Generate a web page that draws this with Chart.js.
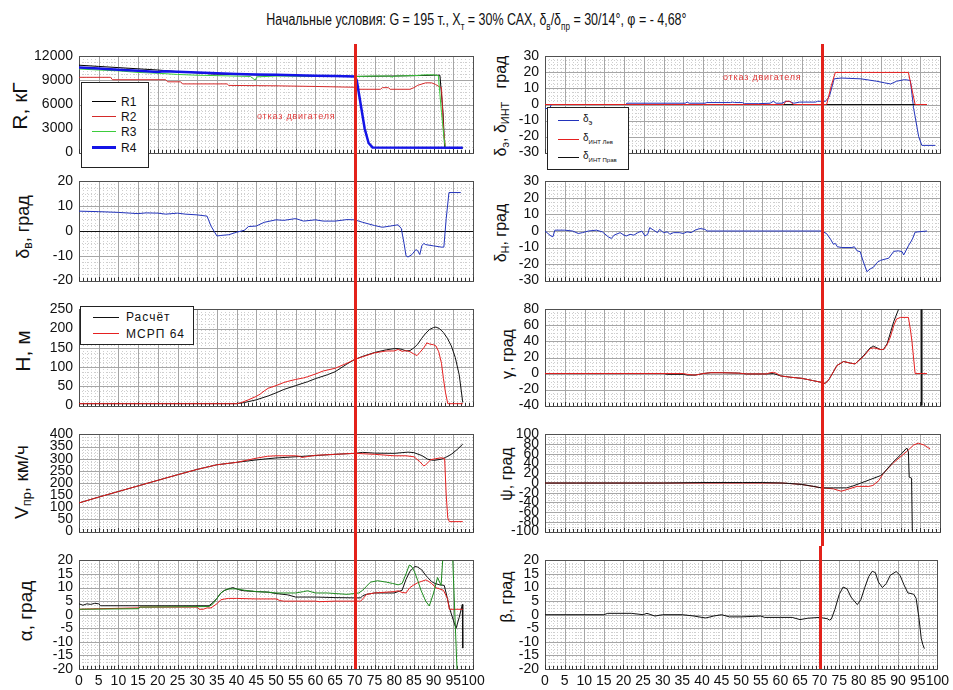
<!DOCTYPE html>
<html><head><meta charset="utf-8">
<script src="https://cdn.jsdelivr.net/npm/chart.js@4.4.0/dist/chart.umd.min.js"></script>
<style>
html,body{margin:0;padding:0;background:#fff;}
#wrap{position:relative;width:953px;height:690px;overflow:hidden;background:#fff;font-family:Arial,"Liberation Sans",sans-serif;}
canvas{position:absolute;}
.yt{position:absolute;white-space:nowrap;transform:translate(-50%,-50%) rotate(-90deg);color:#111;line-height:1;}
.yt sub{font-size:68%;vertical-align:-0.3em;}
.leg{position:absolute;background:#fff;border:1px solid #222;box-sizing:border-box;z-index:5;}
.li{position:absolute;white-space:nowrap;line-height:1;transform:translateY(-50%);color:#111;}
.li sub{font-size:75%;vertical-align:-0.35em;}
.sw{position:absolute;}
.fail{position:absolute;color:#e03a3a;font-size:9px;letter-spacing:0.8px;white-space:nowrap;line-height:1;transform:translateY(-50%);z-index:4;}
#title{position:absolute;left:0;width:953px;top:10px;text-align:center;font-family:Arial,"Liberation Sans",sans-serif;font-size:16px;color:#111;line-height:1.2;transform:scaleX(0.78);transform-origin:476px 0;}
#title sub{font-size:65%;vertical-align:-0.45em;}
</style>
</head>
<body>
<div id="wrap">
  <div id="title">Начальные условия: G = 195 т., X<sub>т</sub> = 30% САХ, δ<sub>в</sub>/δ<sub>пр</sub> = 30/14°, φ = - 4,68°</div>

  <div class="yt" style="left:19px;top:106px;font-size:21px;">R, кГ</div>
  <div class="yt" style="left:24px;top:227px;font-size:18px;">δ<sub>в</sub>, град</div>
  <div class="yt" style="left:22px;top:351px;font-size:21px;">H, м</div>
  <div class="yt" style="left:23px;top:482px;font-size:19px;">V<sub>пр</sub>, км/ч</div>
  <div class="yt" style="left:25px;top:611px;font-size:19px;">α, град</div>

  <div class="yt" style="left:502px;top:106px;font-size:16px;">δ<sub>э</sub>, δ<sub>ИНТ</sub>&nbsp;&nbsp; град</div>
  <div class="yt" style="left:502px;top:233px;font-size:16px;">δ<sub>Н</sub>, град</div>
  <div class="yt" style="left:508px;top:354px;font-size:16px;">γ, град</div>
  <div class="yt" style="left:507px;top:474px;font-size:16px;">ψ, град</div>
  <div class="yt" style="left:507px;top:597px;font-size:16px;">β, град</div>

  <div class="fail" style="left:257px;top:116px;">отказ двигателя</div>
  <div class="fail" style="left:723px;top:77px;">отказ двигателя</div>

  <div class="leg" style="left:81px;top:82px;width:68px;height:86px;">
    <div class="sw" style="left:10px;top:18px;width:24px;border-top:1px solid #000;"></div>
    <div class="li" style="left:39px;top:19px;font-size:12px;">R1</div>
    <div class="sw" style="left:10px;top:33px;width:24px;border-top:1px solid #d42a2a;"></div>
    <div class="li" style="left:39px;top:34px;font-size:12px;">R2</div>
    <div class="sw" style="left:10px;top:48px;width:24px;border-top:1px solid #3ccc3c;"></div>
    <div class="li" style="left:39px;top:49px;font-size:12px;">R3</div>
    <div class="sw" style="left:10px;top:63px;width:24px;border-top:3px solid #1414e6;"></div>
    <div class="li" style="left:39px;top:65px;font-size:12px;">R4</div>
  </div>

  <div class="leg" style="left:547px;top:107px;width:82px;height:63px;">
    <div class="sw" style="left:10px;top:12px;width:21px;border-top:1px solid #2233bb;"></div>
    <div class="li" style="left:35px;top:12px;font-size:10px;">δ<sub>э</sub></div>
    <div class="sw" style="left:10px;top:31px;width:21px;border-top:1px solid #e52020;"></div>
    <div class="li" style="left:35px;top:31px;font-size:10px;">δ<sub style="font-size:6px">ИНТ Лев</sub></div>
    <div class="sw" style="left:10px;top:49px;width:21px;border-top:1px solid #111;"></div>
    <div class="li" style="left:35px;top:49px;font-size:10px;">δ<sub style="font-size:6px">ИНТ Прав</sub></div>
  </div>

  <div class="leg" style="left:80px;top:306px;width:114px;height:39px;">
    <div class="sw" style="left:12px;top:10px;width:26px;border-top:1px solid #111;"></div>
    <div class="li" style="left:45px;top:10px;font-size:12px;letter-spacing:1px;">Расчёт</div>
    <div class="sw" style="left:12px;top:26px;width:26px;border-top:1px solid #e52020;"></div>
    <div class="li" style="left:45px;top:27px;font-size:12px;letter-spacing:1px;">МСРП 64</div>
  </div>
</div>

<script>
// ---------------- DATA ----------------
const failTime = 70;
const xMin = 0, xMax = 100, xStep = 5;

// R, kG
const r1X = [0,5,10,15,20,25,30,34,40,50,60,70,80,90,91.6,92.4,92.8,97.4];
const r1Y = [10900,10750,10600,10450,10300,10100,9950,9800,9750,9650,9550,9500,9550,9650,9650,5000,600,600];
const r2X = [0,2,8,8.5,22,22.5,25.8,26.3,37.6,38,50,60,70,71,76.5,77,78.5,79,84,85,86,88,89.5,90.5,91.5,92,92.5,93,97.4];
const r2Y = [9390,9390,9390,9090,9090,8830,8830,8570,8570,8380,8330,8250,8150,7900,7900,8100,8100,7900,7900,8100,8400,8700,8700,8500,8200,8100,3000,600,600];
const r3X = [0,5,10,15,20,25,30,35,43.5,44,44.7,45.2,50,60,70,75,79,79.5,80,85,88,90,91.2,92,92.6,93,97.4];
const r3Y = [10430,10300,10200,10000,9900,9750,9650,9600,9500,9300,9050,9450,9550,9500,9500,9550,9550,9400,9550,9600,9700,9700,9600,5000,2000,600,600];
const r4X = [0,5,10,15,20,21.5,25,30,35,40,45,50,55,60,65,70,70.5,71.5,72.5,73.5,74.5,97.4];
const r4Y = [10600,10500,10350,10200,10050,10150,10100,10000,9900,9800,9750,9700,9650,9600,9550,9500,9000,6000,3000,1200,650,600];

// delta_e, delta_INT
const deX = [0,1.2,1.6,20.5,20.7,35.5,36,36.5,40.5,41,47,47.5,48,50,50.5,54,57,57.8,58.5,60,61,62,63,64.5,68.5,69,71,72,73.2,75,80,84,86,87.5,89,91,92.5,93.3,94.6,95.4,98.8];
const deY = [-2.5,-2.5,0,0,0.8,0.8,1.5,0.8,0.8,1.2,1.2,1.5,1.2,1.2,0.5,0.5,0.8,2,0.8,0.8,2,1.8,0.8,1.5,1.5,2,2,5,16,16.5,16,14.5,13.5,12.8,14.5,15.5,15,-2,-20,-25.5,-25.5];
const dLevX = [0,60.4,61,62,62.9,71.3,72.5,73.5,92,93.7,96.7];
const dLevY = [0,0,2,2,0,0,12,20,20,0,0];
const dPravX = [0,96.7];
const dPravY = [0,0];

// delta_v
const dvX = [0,5,10,13,15,17,20,22,25,27,30,32.5,33.5,35,36,38,40,42,43,45,47,50,52,55,57,60,62,65,68,70,72,75,77,79,81,81.8,82.5,83,83.5,84.5,85.5,86,86.5,87,87.5,88,90,92,92.6,93.2,93.9,96.9];
const dvY = [8,7.8,7.5,7.2,7,7.3,7.2,6.8,7.2,6.8,6.5,6,2,-2,-1.8,-1.5,-0.5,0.3,1.8,2,3.5,4.5,4.3,5,4,4.5,4,4,4.6,4.5,3.5,2.2,1.5,2,2.5,1,-5,-10,-10.5,-9.5,-7.5,-8,-9.5,-6,-5,-5.5,-6,-6.5,-6.5,5,15.5,15.5];

// delta_N
const dnX = [0,0.5,1.5,2,2.5,5,7,8.4,9.5,11,13,14.5,16,16.8,17.5,19,20,20.6,21.5,22.5,23.5,24.5,25.3,26,26.5,27.5,28.5,29,30,31,31.6,32.5,34,35,36,37,38,39.2,40.5,41,70,71.3,72.3,73,73.5,74,75.1,77.7,78.3,79,79.8,80.5,81.5,82.3,83.2,84.1,84.9,86.1,87,88.3,89.5,90.4,90.8,92,93,93.7,96.7];
const dnY = [0,-1,-3,-3.5,0.5,0.5,0,-1.5,-1,0,0.5,-0.5,-3.5,-4.5,-2.5,-1,-2.5,-3,-2,-2.5,-1,0,-3,-2,2,0.5,-1,1,-1,-0.5,-2,-1,-1,-1.5,-0.5,-1,0.5,1.5,1,0,0,-1.6,-5,-8,-7.5,-9.5,-10,-10,-9.5,-12,-12.5,-18,-24.6,-23,-21.8,-19,-17.8,-17,-16.5,-12.3,-12,-12.5,-14.5,-9,-5,-0.7,0];

// H, m
const hCalcX = [0,40,42,45,48,50,52,55,58,60,63,65,68,70,72,75,78,80,81,82,83,84,85,86,87,88,89,90,90.6,91.5,92.5,93.5,94.5,95.5,96.5,97.4];
const hCalcY = [5,5,8,15,25,33,42,52,62,70,80,88,108,120,128,138,145,148,148,146,142,143,150,160,175,188,198,203,204,200,190,175,155,125,80,8];
const hMsrpX = [0,40,41,43,45,46,47,48,50,52,53,55,57,58,60,62,65,68,70,72,75,78,80,81,82,83,84,85,85.8,86.5,87.5,88.3,89,90,90.6,91.3,92,92.5,93,93.6,97.4];
const hMsrpY = [5,5,7,15,24,30,38,45,52,60,63,68,72,75,82,90,97,110,120,127,137,142,142,146,141,143,140,134,130,138,150,163,160,158,155,140,110,70,35,5,5];

// V_pr, km/h
const vCalcX = [0,5,10,15,20,25,30,35,40,45,48,50,55,60,65,70,72,75,80,83.5,85,87,88.5,90,92,93,94.5,96,97.4];
const vCalcY = [118,142,165,188,211,234,256,275,285,295,300,303,308,313,318,322,326,323,322,327,325,313,298,293,298,305,318,338,360];
const vMsrpX = [0,5,10,15,20,25,30,35,40,45,47.8,50,55,56,56.5,60,65,70,75,80,83,85,86.5,87.5,88,89.3,90.5,92,92.8,93.2,93.6,94,97.4];
const vMsrpY = [118,142,165,188,211,234,256,275,285,302,310,312,312,310,305,314,318,322,318,312,312,308,288,270,275,296,300,304,300,150,56,41,41];

// alpha
const aBlackX = [0,1,2,3,4,5,5.5,33,34,35,36,37,38,39,40,41,42,45,48,50,53,55,60,65,70,71.5,72,73,75,80,81,82,83,84,85.3,86,87,88,88.5,89.5,90.2,91.5,92.7,93.5,94,95,95.7,96.5,97.3,97.4];
const aBlackY = [4,3.5,4,3.8,4.2,4,3.3,3.3,4.5,6,8,9,9.5,10,9.5,9,8.8,8.5,8.3,7.8,7.3,6.5,6.5,6.3,6.2,6.2,7,7.5,8,8,8.5,9,13,16,17.8,17.5,16.5,14.5,13.7,12.2,11.6,11,10.8,6,2.6,-2,-5,-1,3.8,-12.3];
const aRedX = [0,5,15,15.5,30,30.5,31.5,32.5,33.5,35,36,37,38,40,45,50,51,52,60,61,65,70,71.5,72,73,75,80,81,82,83,84,85,86,87,88,88.5,89.5,90.5,91.5,92.5,93.5,94,97.4];
const aRedY = [2,2.2,2.5,2.8,2.8,2,2,2.5,2.5,4,5.5,5.8,6,6,5.8,5.8,5.2,5,5,4.8,5,5,5,5.8,7.5,8,8.5,8.8,8.2,8,10,11,11.8,12.3,12.8,12.5,11.5,10,9.5,9,6,2,2];
const aGreenX = [0,15,15.5,33,34,35,36,37,38,39,40,42,45,48,50,52,55,57,58,60,63,65,68,70,71,72,73,74,75.8,78,79.6,81,82,83,83.8,84.3,85.1,86,86.8,88,88.9,90,91,91.9,92.3,92.6,94.6,96.2];
const aGreenY = [2,2.2,2.8,3,4,6,8,9,9.5,9.5,9.5,9,8.5,8.3,8,8,8,8.5,8.8,8,8,7.8,7.5,7.8,8,9,10.5,12,12.5,12,11.5,11,11.5,15,18.2,18,16,12.5,9,5,3.2,8,13.7,10.8,20,30,30,-30];

// gamma
const gCalcX = [0,30,31,35,36,38,40,42,45,49,51,56,57.8,59.7,62,65,68,70,70.5,71,71.8,73,73.9,75.6,77.3,78.5,80.6,82.3,83.2,84.9,85.7,86.6,87.4,88.3,89.5,90.5,95.2,95.4];
const gCalcY = [0,0,-1,-1,-2,-2,0,1,1,0.5,-0.5,-0.5,0,-3,-4.5,-6,-9,-11,-12.5,-12,-8,2,10,15,13,12,22,32,34,30,30,37,50,65,80,100,200,-200];
const gMsrpX = [0,35,36,38,40,42,45,49,51,56,57,57.8,58.5,59.7,62,65,68,70,70.5,71,71.8,73,73.9,75.6,77.3,78.5,80.6,82.3,83.2,84.9,85.7,86.6,87.4,88.3,89,90,92,92.5,92.9,93.7,96.7];
const gMsrpY = [0,0,-1,-2,0,1,1,0.5,-0.5,-0.5,1,1.5,0.5,-3,-4.5,-6,-9,-11,-12.5,-12,-8,2,10,15,13,12,21,31,32,30,30,36,45,60,68,70,70,55,40,0,0];

// psi
const pCalcX = [0,8,20,30,40,50,55,60,62,65,68,70,73,75,76.4,78,80,82.3,84.9,85.7,88,90,91.6,92,92.2,92.8,93];
const pCalcY = [0,0,0,0,1,1,1,0,-1,-3,-7,-10,-10,-10,-10,-6,0,7,15,20,42,58,72,64,12,10,-100];
const pMsrpX = [0,8,20,30,40,50,60,65,70,73,75,77,79,82,83,84.5,85.7,88,91.6,93.3,94.5,96,97.5];
const pMsrpY = [0,0,0,0,0,0,0,-3,-10,-12,-17,-12,-7,-7,-5,5,20,40,65,78,82,78,70];

// beta
const bX = [0,15,16,22,25,26,27,28,30,35,38,40,41,43,45,47,50,55,56,60,63,65,67,70,72,72.5,73,73.9,75,76,77,78,79.6,80.5,81.5,82.5,83.4,84.2,85,86,87,88,89.5,90.5,91.5,92.5,93.3,94,94.6,95.3,95.9,96.3,96.7];
const bY = [0,0,0.5,0.5,0,0.5,0,-0.5,0,0,-0.5,-1,-1.2,-0.5,0,-0.8,-0.8,-0.5,-1,-1,-1,-1.8,-1.3,-1,-1.5,-2,-1.6,2,7.5,10.2,9.5,6.5,3.7,5.5,10,14,16,15.5,12,10,11.5,14.5,15.9,14.5,11,8,7.8,7.5,6,-1,-8.7,-11,-12.5];

// ---------------- RENDER ----------------
const FONT = 'Arial, "Liberation Sans", sans-serif';
const panelPlugin = {
  id: 'panel',
  beforeDatasetsDraw(chart, args, o) {
    const ctx = chart.ctx, a = chart.chartArea, x = chart.scales.x, y = chart.scales.y;
    const L = Math.round(a.left), R = Math.round(a.right), T = Math.round(a.top), Bt = Math.round(a.bottom);
    ctx.save();
    ctx.lineWidth = 1;
    // minor dotted grid
    ctx.setLineDash([1, 2]);
    ctx.strokeStyle = '#cfcfcf';
    ctx.beginPath();
    for (let i = xMin; i <= xMax; i++) {
      if (i % xStep === 0) continue;
      const px = Math.round(x.getPixelForValue(i)) + 0.5;
      ctx.moveTo(px, T); ctx.lineTo(px, Bt);
    }
    const nMinor = Math.round((y.max - y.min) / o.yMinor);
    const per = Math.round(o.yStep / o.yMinor);
    for (let j = 1; j < nMinor; j++) {
      if (j % per === 0) continue;
      const py = Math.round(y.getPixelForValue(y.min + j * o.yMinor)) + 0.5;
      ctx.moveTo(L, py); ctx.lineTo(R, py);
    }
    ctx.stroke();
    ctx.setLineDash([]);
    // major grid
    ctx.strokeStyle = '#a6a6a6';
    ctx.beginPath();
    for (let i = xMin + xStep; i < xMax; i += xStep) {
      const px = Math.round(x.getPixelForValue(i)) + 0.5;
      ctx.moveTo(px, T); ctx.lineTo(px, Bt);
    }
    const nMaj = Math.round((y.max - y.min) / o.yStep);
    for (let j = 1; j < nMaj; j++) {
      const v = y.min + j * o.yStep;
      if (o.zero && Math.abs(v) < 1e-9) continue;
      const py = Math.round(y.getPixelForValue(v)) + 0.5;
      ctx.moveTo(L, py); ctx.lineTo(R, py);
    }
    ctx.stroke();
    if (o.zero) {
      ctx.strokeStyle = '#111';
      ctx.beginPath();
      const py = Math.round(y.getPixelForValue(0)) + 0.5;
      ctx.moveTo(L, py); ctx.lineTo(R, py);
      ctx.stroke();
    }
    // frame
    ctx.strokeStyle = '#505050';
    ctx.strokeRect(L + 0.5, T + 0.5, R - L, Bt - T);
    // ruler ticks along bottom
    ctx.strokeStyle = '#333';
    ctx.beginPath();
    for (let i = xMin; i <= xMax; i++) {
      const px = Math.round(x.getPixelForValue(i)) + 0.5;
      ctx.moveTo(px, Bt); ctx.lineTo(px, Bt - (i % xStep === 0 ? 4 : 3));
    }
    ctx.stroke();
    ctx.restore();
  },
  afterDraw(chart, args, o) {
    const ctx = chart.ctx, a = chart.chartArea, x = chart.scales.x;
    const px = Math.round(x.getPixelForValue(failTime)) + 0.5;
    ctx.save();
    ctx.strokeStyle = '#e3221b';
    ctx.lineWidth = 3;
    ctx.lineCap = 'butt';
    ctx.beginPath();
    ctx.moveTo(px, o.redTop || 0);
    ctx.lineTo(px, o.lastRow ? a.bottom : chart.height);
    ctx.stroke();
    ctx.restore();
  }
};
Chart.register(panelPlugin);

function pts(xs, ys) { return xs.map((v, i) => ({ x: v, y: ys[i] })); }
function ds(label, xs, ys, color, width, order) {
  return { label, data: pts(xs, ys), borderColor: color, backgroundColor: color,
    borderWidth: width || 1, pointRadius: 0, tension: 0, fill: false, order: order || 0 };
}

const LEFT = { x: 0, w: 500, yw: 79, pr: 27 };
const RIGHT = { x: 480, w: 473, yw: 65, pr: 13 };
const BND = [42, 167, 295, 420, 546, 690];
const PT = [8, 10, 10, 10, 10];
const PB = [10, 9, 8, 9, 21];

function panel(col, row, yMin, yMax, yStep, yMinor, datasets, zero) {
  const cv = document.createElement('canvas');
  const h = BND[row + 1] - BND[row];
  cv.width = col.w; cv.height = h;
  cv.style.left = col.x + 'px'; cv.style.top = BND[row] + 'px';
  cv.style.width = col.w + 'px'; cv.style.height = h + 'px';
  document.getElementById('wrap').appendChild(cv);
  const last = row === 4;
  new Chart(cv, {
    type: 'line',
    data: { datasets },
    options: {
      responsive: false, animation: false, devicePixelRatio: 1,
      events: [],
      layout: { autoPadding: false, padding: { top: PT[row], right: col.pr, left: 0, bottom: 0 } },
      plugins: {
        legend: { display: false }, tooltip: { enabled: false },
        panel: { yStep, yMinor, zero: !!zero, lastRow: last, redTop: row === 0 ? 2 : 0 }
      },
      scales: {
        x: {
          type: 'linear', min: xMin, max: xMax,
          grid: { display: false, drawTicks: false }, border: { display: false },
          ticks: { display: last, stepSize: xStep, autoSkip: false, maxRotation: 0, padding: 4,
            color: '#111', font: { family: FONT, size: 14 }, callback: v => String(v) },
          afterFit(s) { s.height = PB[row]; }
        },
        y: {
          type: 'linear', min: yMin, max: yMax,
          grid: { display: false, drawTicks: false }, border: { display: false },
          ticks: { stepSize: yStep, autoSkip: false, padding: 6, color: '#111',
            font: { family: FONT, size: 14 }, callback: v => String(v) },
          afterFit(s) { s.width = col.yw; }
        }
      }
    }
  });
}

// Left column
panel(LEFT, 0, 0, 12000, 3000, 750, [
  ds('R4', r4X, r4Y, '#1414e6', 2.5, 1),
  ds('R3', r3X, r3Y, '#3ccc3c', 1, 2),
  ds('R2', r2X, r2Y, '#d42a2a', 1, 3),
  ds('R1', r1X, r1Y, '#000000', 1, 4)
]);
panel(LEFT, 1, -20, 20, 10, 2.5, [ ds('δв', dvX, dvY, '#2233bb', 1, 1) ], true);
panel(LEFT, 2, 0, 250, 50, 12.5, [
  ds('МСРП 64', hMsrpX, hMsrpY, '#e52020', 1, 1),
  ds('Расчёт', hCalcX, hCalcY, '#111111', 1, 2)
]);
panel(LEFT, 3, 0, 400, 50, 12.5, [
  ds('МСРП 64', vMsrpX, vMsrpY, '#e52020', 1, 1),
  ds('Расчёт', vCalcX, vCalcY, '#111111', 1, 2)
]);
panel(LEFT, 4, -20, 20, 5, 1.25, [
  ds('α3', aGreenX, aGreenY, '#1c8a1c', 1, 1),
  ds('α2', aRedX, aRedY, '#e52020', 1, 2),
  ds('α1', aBlackX, aBlackY, '#111111', 1, 3)
]);

// Right column
panel(RIGHT, 0, -30, 30, 10, 2.5, [
  ds('δИНТ Лев', dLevX, dLevY, '#e52020', 1, 1),
  ds('δИНТ Прав', dPravX, dPravY, '#111111', 1, 2),
  ds('δэ', deX, deY, '#2233bb', 1, 3)
]);
panel(RIGHT, 1, -30, 30, 10, 2.5, [ ds('δН', dnX, dnY, '#2233bb', 1, 1) ]);
panel(RIGHT, 2, -40, 80, 20, 5, [
  ds('МСРП 64', gMsrpX, gMsrpY, '#e52020', 1, 1),
  ds('Расчёт', gCalcX, gCalcY, '#111111', 1, 2)
]);
panel(RIGHT, 3, -100, 100, 20, 5, [
  ds('Расчёт', pCalcX, pCalcY, '#111111', 1, 1),
  ds('МСРП 64', pMsrpX, pMsrpY, '#e52020', 1, 2)
]);
panel(RIGHT, 4, -20, 20, 5, 1.25, [ ds('β', bX, bY, '#111111', 1, 1) ]);
</script>
</body></html>
